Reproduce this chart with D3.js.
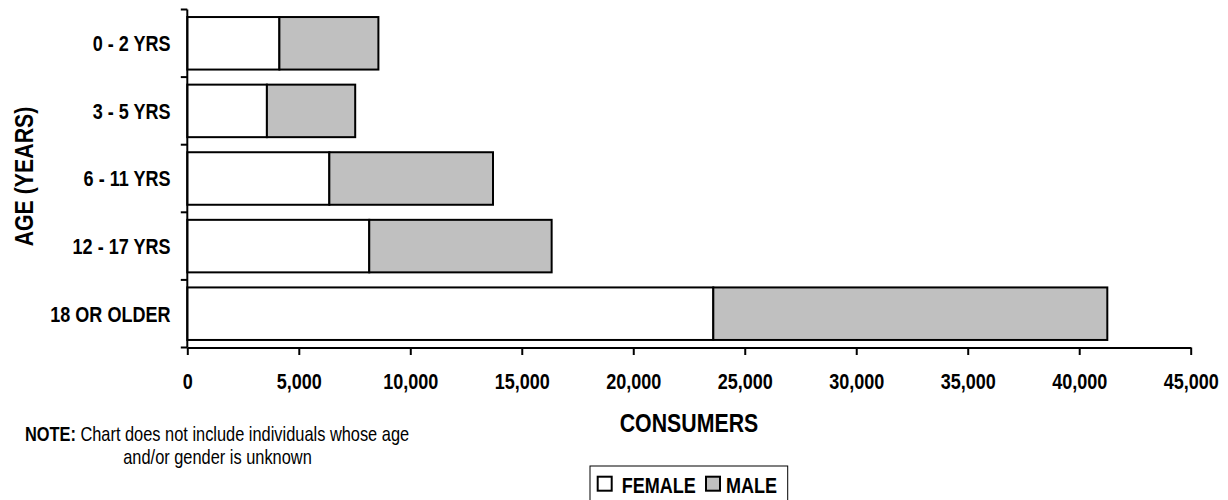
<!DOCTYPE html>
<html><head><meta charset="utf-8">
<script src="https://cdn.jsdelivr.net/npm/d3@7"></script>
<style>
body{margin:0;background:#fff}
svg{display:block}
text{font-family:"Liberation Sans",Arial,sans-serif;fill:#000}
</style>
</head><body>
<svg id="c" width="1228" height="500"></svg>
<script>
const categories = ["0 - 2 YRS", "3 - 5 YRS", "6 - 11 YRS", "12 - 17 YRS", "18 OR OLDER"];
const female = [4130, 3570, 6370, 8160, 23590];
const male = [4440, 3960, 7340, 8180, 17670];
const seriesNames = ["FEMALE", "MALE"];
const seriesColors = ["#ffffff", "#c0c0c0"];
const xTicks = [0, 5000, 10000, 15000, 20000, 25000, 30000, 35000, 40000, 45000];
const xTitle = "CONSUMERS";
const yTitle = "AGE (YEARS)";
const noteBold = "NOTE:";
const noteLine1 = " Chart does not include individuals whose age";
const noteLine2 = "and/or gender is unknown";

const NARROW = 0.82; // emulate Arial Narrow with a horizontal squeeze
const svg = d3.select("#c");
const x = d3.scaleLinear().domain([0, 45000]).range([187.3, 1190.7]);
const y = d3.scaleBand().domain(categories).range([9.5, 347.5]).paddingInner(0.223).paddingOuter(0.1115);

function place(sel, px, py, rot) {
  return sel.attr("transform", `translate(${px},${py})${rot ? ` rotate(${rot})` : ""} scale(${NARROW},1)`);
}

const rows = categories.map((c, i) => ({cat: c, vals: [female[i], male[i]]}));
const stacked = rows.map(r => {
  let acc = 0;
  return r.vals.map((v, k) => { const s = {cat: r.cat, k, x0: acc, x1: acc + v}; acc += v; return s; });
}).flat();

// bars
svg.append("g").selectAll("rect").data(stacked).join("rect")
  .attr("x", d => x(d.x0)).attr("width", d => x(d.x1) - x(d.x0))
  .attr("y", d => y(d.cat)).attr("height", y.bandwidth())
  .attr("fill", d => seriesColors[d.k]).attr("stroke", "#000").attr("stroke-width", 2);

// y axis line and ticks at band boundaries
const y0 = y.range()[0], y1 = y.range()[1];
const ya = svg.append("g");
ya.append("line").attr("x1", x(0)).attr("x2", x(0)).attr("y1", y0).attr("y2", y1)
  .attr("stroke", "#000").attr("stroke-width", 2);
const bounds = d3.range(categories.length + 1).map(i => y0 + i * y.step());
ya.selectAll("line.t").data(bounds).join("line").attr("class", "t")
  .attr("x1", x(0) - 6.5).attr("x2", x(0)).attr("y1", d => d).attr("y2", d => d)
  .attr("stroke", "#000").attr("stroke-width", 2);
ya.selectAll("text").data(categories).join("text")
  .each(function(d) {
    place(d3.select(this), 170.5, y(d) - y.paddingOuter() * y.step() + y.step() / 2);
  })
  .attr("dy", "0.36em").attr("text-anchor", "end")
  .attr("font-size", 22).attr("font-weight", "bold").text(d => d);

// x axis
const xa = svg.append("g").attr("transform", `translate(0,${y1})`)
  .call(d3.axisBottom(x).tickValues(xTicks).tickSize(7.5).tickSizeOuter(0).tickPadding(34.5).tickFormat(d3.format(",")));
xa.attr("font-family", null).attr("font-size", null);
xa.select(".domain").attr("stroke", "#000").attr("stroke-width", 2);
xa.selectAll(".tick line").attr("stroke", "#000").attr("stroke-width", 2);
xa.selectAll(".tick text").attr("font-size", 22).attr("font-weight", "bold")
  .attr("fill", "#000").attr("dy", null)
  .attr("transform", `scale(${NARROW},1)`);

// axis titles
place(svg.append("text"), (x.range()[0] + x.range()[1]) / 2, 432)
  .attr("text-anchor", "middle").attr("font-size", 26).attr("font-weight", "bold").text(xTitle);
place(svg.append("text"), 33, (y0 + y1) / 2 - 2, -90)
  .attr("text-anchor", "middle").attr("font-size", 26).attr("font-weight", "bold").text(yTitle);

// note
const n1 = place(svg.append("text"), 217, 440.5).attr("text-anchor", "middle").attr("font-size", 20);
n1.append("tspan").attr("font-weight", "bold").text(noteBold);
n1.append("tspan").text(noteLine1);
place(svg.append("text"), 217.5, 463.5).attr("text-anchor", "middle").attr("font-size", 20).text(noteLine2);

// legend
const lg = svg.append("g");
lg.append("rect").attr("x", 590).attr("y", 466).attr("width", 197.7).attr("height", 40)
  .attr("fill", "#fff").attr("stroke", "#000").attr("stroke-width", 1);
const legX = [597.7, 706];
const items = lg.selectAll("g").data(seriesNames).join("g")
  .attr("transform", (d, i) => `translate(${legX[i]},476.7)`);
items.append("rect").attr("width", 14).attr("height", 14)
  .attr("fill", (d, i) => seriesColors[i]).attr("stroke", "#000").attr("stroke-width", 2);
items.each(function(d, i) {
  place(d3.select(this).append("text"), i === 0 ? 24 : 20, 16).attr("font-size", 22).attr("font-weight", "bold").text(d);
});
</script>
</body></html>
